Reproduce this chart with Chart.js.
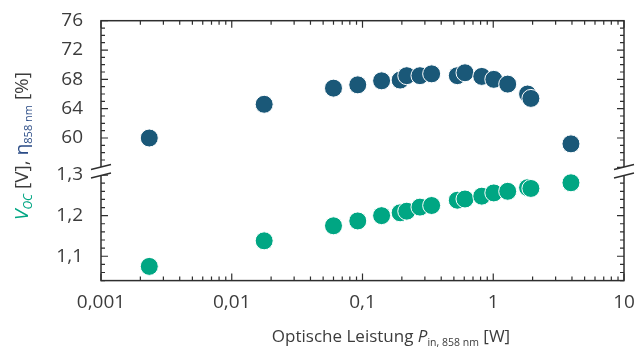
<!DOCTYPE html>
<html>
<head>
<meta charset="utf-8">
<script src="https://cdn.jsdelivr.net/npm/chart.js@4.4.1/dist/chart.umd.min.js"></script>
<style>
  html, body { margin: 0; padding: 0; background: #fff; }
  #wrap { width: 635px; height: 349px; position: relative; }
</style>
</head>
<body>
<div id="wrap"><canvas id="myChart"></canvas></div>
<script>
// optische Leistung P in W (logarithmische Achse)
const power = [0.00234, 0.0177, 0.06, 0.092, 0.14, 0.194, 0.218, 0.275, 0.338, 0.531, 0.608, 0.817, 1.01, 1.29, 1.83, 1.94, 3.93];
// Wirkungsgrad eta bei 858 nm in %
const eta = [60.0, 64.6, 66.8, 67.25, 67.8, 67.9, 68.5, 68.5, 68.75, 68.5, 68.9, 68.4, 68.0, 67.35, 66.0, 65.4, 59.2];
// Leerlaufspannung V_OC in V
const voc = [1.075, 1.138, 1.175, 1.187, 1.200, 1.207, 1.211, 1.221, 1.225, 1.238, 1.241, 1.248, 1.256, 1.260, 1.269, 1.267, 1.281];

// Achsenbeschriftungen
const xTicks = [0.001, 0.01, 0.1, 1, 10];
const etaTicks = [60, 64, 68, 72, 76];
const vocTicks = [1.1, 1.2, 1.3];

const BLUE = '#1a5878';
const GREEN = '#00a683';
const TEXT = '#3c3c3c';
const AXIS = '#2e2e2e';
const FONT = '"Open Sans", sans-serif';

function fmt(v) {
  return String(v).replace('.', ',');
}

// kein Überstand der Beschriftung in das Layout einrechnen
function noPad(s) {
  s.paddingTop = 0;
  s.paddingBottom = 0;
  s.paddingLeft = 0;
  s.paddingRight = 0;
}

// Rahmen mit Innen-Ticks und Achsenbruch
const framePlugin = {
  id: 'frame',
  afterDraw(chart) {
    const ctx = chart.ctx;
    const a = chart.chartArea;
    const xs = chart.scales.x;
    const ye = chart.scales.yEta;
    const yv = chart.scales.yVoc;
    ctx.save();
    ctx.strokeStyle = AXIS;
    ctx.lineWidth = 1.5;
    ctx.strokeRect(a.left, a.top, a.right - a.left, a.bottom - a.top);

    ctx.lineWidth = 1.2;
    ctx.beginPath();
    // x-Ticks oben und unten
    for (let d = -3; d <= 1; d++) {
      for (let m = 1; m <= 9; m++) {
        const v = m * Math.pow(10, d);
        if (v > 10.0001) break;
        const px = xs.getPixelForValue(v);
        const len = m === 1 ? 7 : 4;
        ctx.moveTo(px, a.bottom); ctx.lineTo(px, a.bottom - len);
        ctx.moveTo(px, a.top); ctx.lineTo(px, a.top + len);
      }
    }
    // y-Ticks oberer Teil
    for (let v = 56; v <= 76; v++) {
      const py = ye.getPixelForValue(v);
      const len = v % 4 === 0 ? 7 : 4;
      ctx.moveTo(a.left, py); ctx.lineTo(a.left + len, py);
      ctx.moveTo(a.right, py); ctx.lineTo(a.right - len, py);
    }
    // y-Ticks unterer Teil
    for (let k = 52; k <= 65; k++) {
      const py = yv.getPixelForValue(k * 0.02);
      const len = k % 5 === 0 ? 7 : 4;
      ctx.moveTo(a.left, py); ctx.lineTo(a.left + len, py);
      ctx.moveTo(a.right, py); ctx.lineTo(a.right - len, py);
    }
    ctx.stroke();

    // Bruchzeichen
    const yb = ye.bottom;
    [a.left, a.right].forEach(x0 => {
      ctx.fillStyle = '#fff';
      ctx.beginPath();
      ctx.moveTo(x0 - 10, yb - 1.5);
      ctx.lineTo(x0 + 10, yb - 6.5);
      ctx.lineTo(x0 + 10, yb + 2);
      ctx.lineTo(x0 - 10, yb + 7);
      ctx.closePath();
      ctx.fill();
      ctx.strokeStyle = AXIS;
      ctx.lineWidth = 1.3;
      ctx.beginPath();
      ctx.moveTo(x0 - 10, yb - 1.5); ctx.lineTo(x0 + 10, yb - 6.5);
      ctx.moveTo(x0 - 10, yb + 7); ctx.lineTo(x0 + 10, yb + 2);
      ctx.stroke();
    });

    // Achsentitel
    drawRich(ctx, [
      { t: 'Optische Leistung ', f: '17px ' + FONT, c: TEXT },
      { t: 'P', f: 'italic 17px ' + FONT, c: TEXT },
      { t: 'in, 858 nm', f: '10.5px ' + FONT, c: TEXT, dy: 4 },
      { t: ' [W]', f: '17px ' + FONT, c: TEXT }
    ], 391, 342, 0);
    drawRich(ctx, [
      { t: 'V', f: 'italic 19px ' + FONT, c: GREEN },
      { t: 'OC', f: 'italic 12px ' + FONT, c: GREEN, dy: 4 },
      { t: ' [V], ', f: '19px ' + FONT, c: TEXT },
      { t: 'η', f: '19px ' + FONT, c: '#2b4c86' },
      { t: '858 nm', f: '11px ' + FONT, c: '#2b4c86', dy: 4 },
      { t: ' [%]', f: '19px ' + FONT, c: TEXT }
    ], 28, 146, -Math.PI / 2);
    ctx.restore();
  }
};

function drawRich(ctx, parts, cx, cy, rot) {
  let w = 0;
  parts.forEach(p => { ctx.font = p.f; p.w = ctx.measureText(p.t).width; w += p.w; });
  ctx.save();
  ctx.translate(cx, cy);
  ctx.rotate(rot);
  ctx.textBaseline = 'alphabetic';
  ctx.textAlign = 'left';
  let x = -w / 2;
  parts.forEach(p => {
    ctx.font = p.f;
    ctx.fillStyle = p.c;
    ctx.fillText(p.t, x, p.dy || 0);
    x += p.w;
  });
  ctx.restore();
}

const tickFont = { family: FONT, size: 19 };

const ctx = document.getElementById('myChart').getContext('2d');
new Chart(ctx, {
  type: 'scatter',
  data: {
    datasets: [{
      label: 'eta',
      data: power.map((p, i) => ({ x: p, y: eta[i] })),
      yAxisID: 'yEta',
      backgroundColor: BLUE,
      borderColor: '#fff',
      borderWidth: 1,
      pointRadius: 9,
      pointHoverRadius: 9
    }, {
      label: 'voc',
      data: power.map((p, i) => ({ x: p, y: voc[i] })),
      yAxisID: 'yVoc',
      backgroundColor: GREEN,
      borderColor: '#fff',
      borderWidth: 1,
      pointRadius: 9,
      pointHoverRadius: 9
    }]
  },
  options: {
    responsive: true,
    maintainAspectRatio: false,
    animation: false,
    layout: { padding: { left: 0, right: 11, top: 20.7, bottom: 0 } },
    plugins: { legend: { display: false }, tooltip: { enabled: false } },
    scales: {
      x: {
        type: 'logarithmic',
        min: 0.001,
        max: 10,
        grid: { display: false, drawTicks: false },
        border: { display: false },
        afterBuildTicks: s => { s.ticks = xTicks.map(v => ({ value: v })); },
        afterFit: s => { s.height = 68.4; noPad(s); },
        ticks: { padding: 11, font: tickFont, color: TEXT, maxRotation: 0, autoSkip: false, callback: v => fmt(v) }
      },
      yVoc: {
        type: 'linear',
        position: 'left',
        stack: 'y',
        stackWeight: 109.9,
        min: 1.04,
        max: 1.31,
        grid: { display: false, drawTicks: false },
        border: { display: false },
        afterBuildTicks: s => { s.ticks = vocTicks.map(v => ({ value: v })); },
        afterFit: s => { s.width = 101; noPad(s); },
        ticks: { padding: 18, font: tickFont, color: TEXT, autoSkip: false, callback: v => fmt(v) }
      },
      yEta: {
        type: 'linear',
        position: 'left',
        stack: 'y',
        stackWeight: 150.7,
        min: 55.5,
        max: 76,
        grid: { display: false, drawTicks: false },
        border: { display: false },
        afterBuildTicks: s => { s.ticks = etaTicks.map(v => ({ value: v })); },
        afterFit: s => { s.width = 101; noPad(s); },
        ticks: { padding: 18, font: tickFont, color: TEXT, autoSkip: false, callback: v => fmt(v) }
      }
    }
  },
  plugins: [framePlugin]
});
</script>
</body>
</html>
